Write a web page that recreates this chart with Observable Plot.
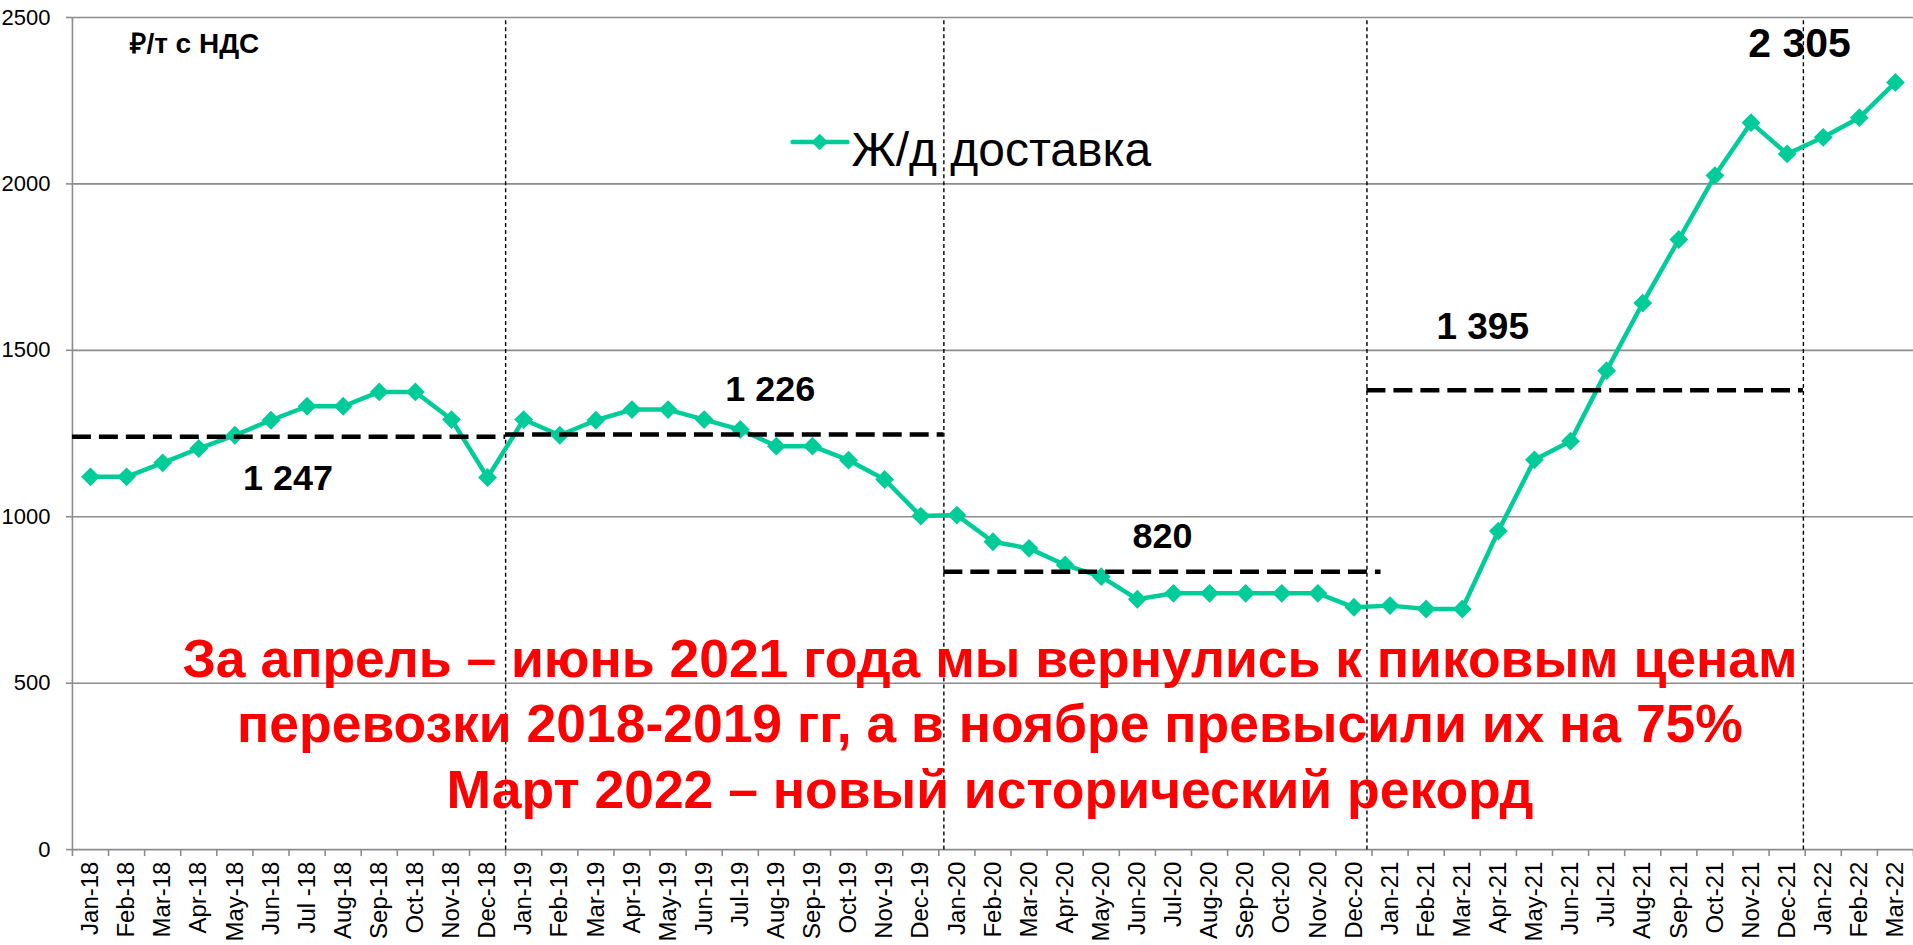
<!DOCTYPE html>
<html><head><meta charset="utf-8">
<script src="https://cdn.jsdelivr.net/npm/d3@7"></script>
<script src="https://cdn.jsdelivr.net/npm/@observablehq/plot@0.6"></script>
<style>
html,body{margin:0;padding:0;background:#fff;overflow:hidden;}
#chart svg{display:block}
</style></head><body><div id="chart"></div>
<script>
// ---- data ----
const months = ["Jan-18","Feb-18","Mar-18","Apr-18","May-18","Jun-18","Jul -18","Aug-18","Sep-18","Oct-18","Nov-18","Dec-18",
  "Jan-19","Feb-19","Mar-19","Apr-19","May-19","Jun-19","Jul-19","Aug-19","Sep-19","Oct-19","Nov-19","Dec-19",
  "Jan-20","Feb-20","Mar-20","Apr-20","May-20","Jun-20","Jul-20","Aug-20","Sep-20","Oct-20","Nov-20","Dec-20",
  "Jan-21","Feb-21","Mar-21","Apr-21","May-21","Jun-21","Jul-21","Aug-21","Sep-21","Oct-21","Nov-21","Dec-21",
  "Jan-22","Feb-22","Mar-22"];
const values = [1120,1120,1162,1205,1245,1290,1332,1332,1375,1375,1292,1118,
  1292,1245,1290,1322,1322,1292,1262,1212,1212,1170,1112,1002,
  1005,925,905,855,820,752,770,770,770,770,770,728,
  733,723,723,957,1171,1227,1439,1642,1833,2025,2184,2090,
  2140,2199,2305];
const yTicks = [0,500,1000,1500,2000,2500];
const periodYears = ["18","19","20","21"];
const avgLevels = [1240,1247,835,1380];
const avgLabels = ["1 247","1 226","820","1 395"];
const seriesName = "Ж/д доставка";
const unitLabel = "₽/т с НДС";
const noteLines = ["За апрель – июнь 2021 года мы вернулись к пиковым ценам",
  "перевозки 2018-2019 гг, а в ноябре превысили их на 75%",
  "Март 2022 – новый исторический рекорд"];

// ---- build tables ----
const data = months.map((m, i) => ({i: i + 0.5, month: m, value: values[i]}));
// small hand-drawn offsets of the year separators in the original (index units)
const sepShift = [0, 0.14, -0.14, -0.05];
const periods = periodYears.map((yy, k) => {
  const start = months.findIndex(m => m.endsWith(yy));
  const end = months.length - [...months].reverse().findIndex(m => m.endsWith(yy));
  return {start, end, level: avgLevels[k], label: avgLabels[k]};
});
const separators = periods.map((p, k) => p.end + sepShift[k]);
const segs = periods.map((p, k) => ({
  x1: k === 0 ? p.start : separators[k - 1],
  x2: k === 2 ? p.end + 0.25 : separators[k],
  mid: (p.start + p.end) / 2, level: p.level, label: p.label
}));
const last = data[data.length - 1];

const C = "#00cc99";
const FONT = "'Liberation Sans', Arial, Helvetica, sans-serif";
const GRID = "#8c8c8c";

const chart = Plot.plot({
  width: 1915, height: 945,
  marginLeft: 72, marginRight: 0, marginTop: 17, marginBottom: 95,
  style: {fontFamily: FONT, background: "#fff", color: "#000"},
  x: {type: "linear", domain: [0, months.length], axis: null},
  y: {domain: [0, 2500], axis: null, label: null},
  marks: [
    Plot.gridY(yTicks.slice(1), {stroke: GRID, strokeOpacity: 1, strokeWidth: 1.6}),
    Plot.axisY(yTicks, {tickSize: 6, tickPadding: 16, stroke: GRID, strokeWidth: 1.6, fill: "#000",
      fontSize: 22, tickFormat: d => String(d), label: null}),
    Plot.axisX(d3.range(months.length + 1), {tickSize: 7, stroke: GRID, strokeWidth: 1.6,
      tickFormat: () => "", label: null}),
    Plot.axisX(data.map(d => d.i), {tickSize: 0, tickPadding: 12, tickRotate: -90, fill: "#000",
      fontSize: 24, tickFormat: d => months[Math.floor(d)], label: null}),
    Plot.ruleX([0], {stroke: GRID, strokeWidth: 1.6}),
    Plot.ruleY([0], {stroke: GRID, strokeWidth: 1.6}),
    Plot.ruleX(separators, {y1: 2490, y2: -8, stroke: "#000", strokeWidth: 1.4, strokeDasharray: "4,3"}),
    Plot.line(data, {x: "i", y: "value", stroke: C, strokeWidth: 4.5}),
    Plot.dot(data, {x: "i", y: "value", symbol: "diamond2", r: 8.5, fill: C, stroke: "none"}),
    Plot.ruleY(segs, {y: "level", x1: "x1", x2: "x2",
      stroke: "#000", strokeWidth: 4.5, strokeDasharray: "19,8"}),
    // average labels
    Plot.text([segs[0]], {x: "mid", y: "level", text: "label", dx: -1, dy: 53, lineAnchor: "bottom",
      fontSize: 36, fontWeight: "bold", fill: "#000"}),
    Plot.text([segs[1]], {x: "mid", y: "level", text: "label", dx: 48, dy: -34, lineAnchor: "bottom",
      fontSize: 36, fontWeight: "bold", fill: "#000"}),
    Plot.text([segs[2]], {x: "mid", y: "level", text: "label", dx: 7, dy: -24, lineAnchor: "bottom",
      fontSize: 36, fontWeight: "bold", fill: "#000"}),
    Plot.text([segs[3]], {x: "mid", y: "level", text: "label", dx: -106, dy: -51, lineAnchor: "bottom",
      fontSize: 37, fontWeight: "bold", fill: "#000"}),
    Plot.text([last], {x: "i", y: "value", text: d => d3.format(",")(d.value).replace(",", " "),
      dx: -96, dy: -25, lineAnchor: "bottom", fontSize: 41, fontWeight: "bold", fill: "#000"}),
    // unit label
    Plot.text([unitLabel], {frameAnchor: "top-left", text: d => d, dx: 58, dy: 36, lineAnchor: "bottom",
      textAnchor: "start", fontSize: 28, fontWeight: "bold", fill: "#000"}),
    // legend
    Plot.line([{x: 19.95, y: 2126}, {x: 21.47, y: 2126}], {x: "x", y: "y", stroke: C, strokeWidth: 4.5}),
    Plot.dot([{x: 20.7, y: 2126}], {x: "x", y: "y", symbol: "diamond2", r: 7.5, fill: C, stroke: "none"}),
    Plot.text([seriesName], {x: () => 21.58, y: () => 2053, text: d => d, textAnchor: "start", lineAnchor: "bottom",
      fontSize: 48, fill: "#000"}),
    // red note
    Plot.text([noteLines.join("\n")], {frameAnchor: "bottom", text: d => d, dx: -3, dy: -42, lineAnchor: "bottom",
      lineHeight: 1.22, fontSize: 53.5, fontWeight: "bold", fill: "#ff0000"})
  ]
});
document.getElementById("chart").appendChild(chart);
</script></body></html>
